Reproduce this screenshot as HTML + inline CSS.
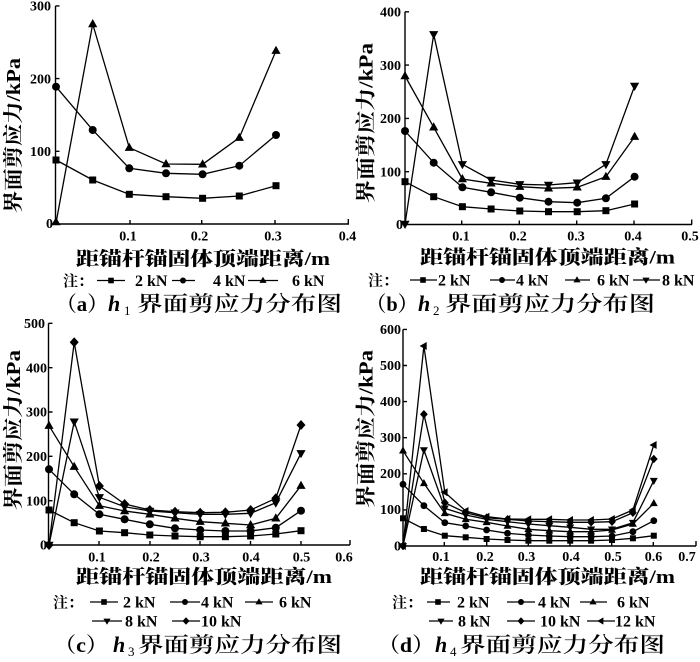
<!DOCTYPE html>
<html><head><meta charset="utf-8">
<style>
html,body{margin:0;padding:0;background:#fff;}
svg{display:block;}
.n{font-family:"Liberation Serif",serif;font-weight:bold;font-size:14px;fill:#000;}
.lg{font-family:"Liberation Serif",serif;font-weight:bold;font-size:16px;fill:#000;}
.cj{font-family:"Liberation Serif","Noto Serif CJK SC","Noto Sans CJK SC",serif;fill:#000;}
.ln{fill:none;stroke:#000;stroke-width:1.3;stroke-linejoin:miter;}
.ax{fill:none;stroke:#000;stroke-width:1.4;}
.hi{font-family:"Liberation Serif","DejaVu Serif",serif;font-style:italic;font-weight:bold;font-size:22px;fill:#000;}
.sb{font-family:"Liberation Serif",serif;font-size:13px;fill:#000;}
</style></head>
<body>
<svg width="700" height="662" viewBox="0 0 700 662" xmlns="http://www.w3.org/2000/svg">
<defs>
<path id="sq" d="M-3.5,-3.5h7v7h-7z"/>
<circle id="ci" r="4"/>
<path id="tu" d="M0,-5L4.6,3.2L-4.6,3.2Z"/>
<path id="td" d="M0,5L4.6,-3.2L-4.6,-3.2Z"/>
<path id="di" d="M0,-5L4.5,0L0,5L-4.5,0Z"/>
<path id="sqs" d="M-3,-3h6v6h-6z"/>
<circle id="cis" r="3.4"/>
<path id="tus" d="M0,-4.3L4,2.8L-4,2.8Z"/>
<path id="tds" d="M0,4.3L4,-2.8L-4,-2.8Z"/>
<path id="dis" d="M0,-4.3L3.9,0L0,4.3L-3.9,0Z"/>
<path id="tls" d="M-4.3,0L2.8,-4L2.8,4Z"/>
<path id="sql" d="M-2.8,-2.8h5.6v5.6h-5.6z"/>
<circle id="cil" r="3"/>
<path id="tul" d="M0,-3.8L3.6,2.4L-3.6,2.4Z"/>
<path id="tdl" d="M0,3.8L3.6,-2.4L-3.6,-2.4Z"/>
<path id="dil" d="M0,-3.8L3.5,0L0,3.8L-3.5,0Z"/>
<path id="tll" d="M-3.8,0L2.4,-3.6L2.4,3.6Z"/>
</defs>

<!-- ================= Panel (a) ================= -->
<path class="ax" d="M55.5,5.9V224H349M55.5,5.9h4M55.5,78.6h4M55.5,151.3h4M130,224v-4M201.7,224v-4M275,224v-4M348.3,224v-5"/>
<text class="n" x="51" y="10.5" text-anchor="end">300</text>
<text class="n" x="51" y="83.5" text-anchor="end">200</text>
<text class="n" x="51" y="156" text-anchor="end">100</text>
<text class="n" x="53" y="228" text-anchor="end">0</text>
<text class="n" x="128" y="240.5" text-anchor="middle">0.1</text>
<text class="n" x="199.5" y="240.5" text-anchor="middle">0.2</text>
<text class="n" x="273" y="240.5" text-anchor="middle">0.3</text>
<text class="n" x="347.5" y="240.5" text-anchor="middle">0.4</text>

<polyline class="ln" points="56,160 92.7,180 129.3,194.3 166,196.7 202.6,198.3 239.3,196 276,185.7"/>
<polyline class="ln" points="56,86.7 92.7,130 129.3,168.3 166,173.3 202.6,174.3 239.3,165.7 276,135"/>
<polyline class="ln" points="56,223 92.7,24 129.3,147.7 166,164 202.6,164.3 239.3,137.7 276,50.7"/>
<g>
<use href="#sq" x="56" y="160"/><use href="#sq" x="92.7" y="180"/><use href="#sq" x="129.3" y="194.3"/><use href="#sq" x="166" y="196.7"/><use href="#sq" x="202.6" y="198.3"/><use href="#sq" x="239.3" y="196"/><use href="#sq" x="276" y="185.7"/>
<use href="#ci" x="56" y="86.7"/><use href="#ci" x="92.7" y="130"/><use href="#ci" x="129.3" y="168.3"/><use href="#ci" x="166" y="173.3"/><use href="#ci" x="202.6" y="174.3"/><use href="#ci" x="239.3" y="165.7"/><use href="#ci" x="276" y="135"/>
<use href="#tu" x="56" y="222"/><use href="#tu" x="92.7" y="24"/><use href="#tu" x="129.3" y="147.7"/><use href="#tu" x="166" y="164"/><use href="#tu" x="202.6" y="164.3"/><use href="#tu" x="239.3" y="137.7"/><use href="#tu" x="276" y="50.7"/>
</g>
<text class="cj" font-size="20" font-weight="bold" transform="translate(20,135.5) rotate(-90)" text-anchor="middle" textLength="155" lengthAdjust="spacingAndGlyphs">界面剪应力/kPa</text>
<text class="cj" font-size="19" x="76" y="265" textLength="254" lengthAdjust="spacingAndGlyphs" font-weight="800">距锚杆锚固体顶端距离/m</text>
<text class="cj" font-size="15" x="63" y="286" font-weight="bold">注：</text>
<path class="ln" d="M97,280.5h28M172,280.5h23M248,280.5h30"/>
<use href="#sql" x="111" y="280.5"/><use href="#cil" x="183" y="280.5"/><use href="#tul" x="263" y="280.5"/>
<text class="lg" x="135" y="286">2 kN</text>
<text class="lg" x="213" y="286">4 kN</text>
<text class="lg" x="292" y="286">6 kN</text>
<text class="cj" font-size="21" font-weight="600" x="56" y="311" textLength="52" lengthAdjust="spacingAndGlyphs">（a）</text>
<text class="hi" x="108" y="311">h</text>
<text class="sb" x="124" y="315">1</text>
<text class="cj" font-size="21" font-weight="600" x="137" y="311" textLength="205" lengthAdjust="spacingAndGlyphs">界面剪应力分布图</text>

<!-- ================= Panel (b) ================= -->
<path class="ax" d="M405,11.8V224.5H692M405,11.8h4M405,65.1h4M405,118.4h4M405,171.7h4M461.7,224.5v-4M519.3,224.5v-4M576.7,224.5v-4M634,224.5v-4M691.7,224.5v-5"/>
<text class="n" x="401" y="16.5" text-anchor="end">400</text>
<text class="n" x="401" y="70" text-anchor="end">300</text>
<text class="n" x="401" y="123" text-anchor="end">200</text>
<text class="n" x="401" y="176.5" text-anchor="end">100</text>
<text class="n" x="403" y="229" text-anchor="end">0</text>
<text class="n" x="461" y="240.5" text-anchor="middle">0.1</text>
<text class="n" x="518" y="240.5" text-anchor="middle">0.2</text>
<text class="n" x="576" y="240.5" text-anchor="middle">0.3</text>
<text class="n" x="633" y="240.5" text-anchor="middle">0.4</text>
<text class="n" x="690" y="240.5" text-anchor="middle">0.5</text>

<polyline class="ln" points="405,181.7 433.7,196.7 462.4,206.7 491.1,209 519.8,211 548.5,211.7 577.2,211.7 605.9,210.7 634.6,204"/>
<polyline class="ln" points="405,131 433.7,162.7 462.4,187.3 491.1,192.3 519.8,197.7 548.5,201.7 577.2,202.7 605.9,198.3 634.6,176.7"/>
<polyline class="ln" points="405,76 433.7,127.3 462.4,179 491.1,183.3 519.8,186.7 548.5,188.3 577.2,187.3 605.9,176.7 634.6,136.7"/>
<polyline class="ln" points="405,224 433.7,34.3 462.4,164.3 491.1,180 519.8,184.3 548.5,185 577.2,182.7 605.9,164.3 634.6,86"/>
<g>
<use href="#sq" x="405" y="181.7"/><use href="#sq" x="433.7" y="196.7"/><use href="#sq" x="462.4" y="206.7"/><use href="#sq" x="491.1" y="209"/><use href="#sq" x="519.8" y="211"/><use href="#sq" x="548.5" y="211.7"/><use href="#sq" x="577.2" y="211.7"/><use href="#sq" x="605.9" y="210.7"/><use href="#sq" x="634.6" y="204"/>
<use href="#ci" x="405" y="131"/><use href="#ci" x="433.7" y="162.7"/><use href="#ci" x="462.4" y="187.3"/><use href="#ci" x="491.1" y="192.3"/><use href="#ci" x="519.8" y="197.7"/><use href="#ci" x="548.5" y="201.7"/><use href="#ci" x="577.2" y="202.7"/><use href="#ci" x="605.9" y="198.3"/><use href="#ci" x="634.6" y="176.7"/>
<use href="#tu" x="405" y="76"/><use href="#tu" x="433.7" y="127.3"/><use href="#tu" x="462.4" y="179"/><use href="#tu" x="491.1" y="183.3"/><use href="#tu" x="519.8" y="186.7"/><use href="#tu" x="548.5" y="188.3"/><use href="#tu" x="577.2" y="187.3"/><use href="#tu" x="605.9" y="176.7"/><use href="#tu" x="634.6" y="136.7"/>
<use href="#td" x="405" y="224"/><use href="#td" x="433.7" y="34.3"/><use href="#td" x="462.4" y="164.3"/><use href="#td" x="491.1" y="180"/><use href="#td" x="519.8" y="184.3"/><use href="#td" x="548.5" y="185"/><use href="#td" x="577.2" y="182.7"/><use href="#td" x="605.9" y="164.3"/><use href="#td" x="634.6" y="86"/>
</g>
<text class="cj" font-size="20" font-weight="bold" transform="translate(372.5,123) rotate(-90)" text-anchor="middle" textLength="160" lengthAdjust="spacingAndGlyphs">界面剪应力/kPa</text>
<text class="cj" font-size="19" x="420" y="263.5" textLength="255" lengthAdjust="spacingAndGlyphs" font-weight="800">距锚杆锚固体顶端距离/m</text>
<text class="cj" font-size="15" x="368" y="285.5" font-weight="bold">注：</text>
<path class="ln" d="M410,280h27M490,280h25M565,280h25M633,280h27"/>
<use href="#sql" x="423" y="280"/><use href="#cil" x="502" y="280"/><use href="#tul" x="577" y="280"/><use href="#tdl" x="646" y="280"/>
<text class="lg" x="438" y="285.5">2 kN</text>
<text class="lg" x="516" y="285.5">4 kN</text>
<text class="lg" x="597" y="285.5">6 kN</text>
<text class="lg" x="662" y="285.5">8 kN</text>
<text class="cj" font-size="21" font-weight="600" x="366" y="311" textLength="52" lengthAdjust="spacingAndGlyphs">（b）</text>
<text class="hi" x="418" y="311">h</text>
<text class="sb" x="433" y="315">2</text>
<text class="cj" font-size="21" font-weight="600" x="445" y="311" textLength="210" lengthAdjust="spacingAndGlyphs">界面剪应力分布图</text>

<!-- ================= Panel (c) ================= -->
<path class="ax" d="M48.5,323.3V545H350M48.5,323.3h4M48.5,367.7h4M48.5,412h4M48.5,456.3h4M48.5,500.7h4M99,545v-4M150,545v-4M200,545v-4M250.5,545v-4M301,545v-4M350,545v-5"/>
<text class="n" x="45" y="328" text-anchor="end">500</text>
<text class="n" x="47" y="372.5" text-anchor="end">400</text>
<text class="n" x="47" y="416.5" text-anchor="end">300</text>
<text class="n" x="47" y="461" text-anchor="end">200</text>
<text class="n" x="47" y="505.5" text-anchor="end">100</text>
<text class="n" x="47" y="549.5" text-anchor="end">0</text>
<text class="n" x="97" y="561.5" text-anchor="middle">0.1</text>
<text class="n" x="151" y="561.5" text-anchor="middle">0.2</text>
<text class="n" x="201" y="561.5" text-anchor="middle">0.3</text>
<text class="n" x="251" y="561.5" text-anchor="middle">0.4</text>
<text class="n" x="301.5" y="561.5" text-anchor="middle">0.5</text>
<text class="n" x="344" y="561.5" text-anchor="middle">0.6</text>

<polyline class="ln" points="49,510 74.2,522.7 99.4,531 124.6,532.7 149.8,535 175,536 200.2,536.7 225.4,536.7 250.6,536 275.8,534 301,530.7"/>
<polyline class="ln" points="49,469.3 74.2,494.3 99.4,514.3 124.6,519.3 149.8,524.3 175,528.3 200.2,530 225.4,531 250.6,531 275.8,527.7 301,510.7"/>
<polyline class="ln" points="49,425.7 74.2,466.7 99.4,505.7 124.6,511 149.8,514.3 175,518.3 200.2,521.7 225.4,523.3 250.6,525 275.8,518.3 301,485.7"/>
<polyline class="ln" points="49,545 74.2,421.7 99.4,497.3 124.6,506.7 149.8,511 175,512.7 200.2,514.3 225.4,514.3 250.6,513.3 275.8,502.7 301,453.3"/>
<polyline class="ln" points="49,545 74.2,342.3 99.4,486 124.6,504 149.8,510 175,511.7 200.2,512.7 225.4,512.3 250.6,510 275.8,498.3 301,425"/>
<g>
<use href="#sq" x="49" y="510"/><use href="#sq" x="74.2" y="522.7"/><use href="#sq" x="99.4" y="531"/><use href="#sq" x="124.6" y="532.7"/><use href="#sq" x="149.8" y="535"/><use href="#sq" x="175" y="536"/><use href="#sq" x="200.2" y="536.7"/><use href="#sq" x="225.4" y="536.7"/><use href="#sq" x="250.6" y="536"/><use href="#sq" x="275.8" y="534"/><use href="#sq" x="301" y="530.7"/>
<use href="#ci" x="49" y="469.3"/><use href="#ci" x="74.2" y="494.3"/><use href="#ci" x="99.4" y="514.3"/><use href="#ci" x="124.6" y="519.3"/><use href="#ci" x="149.8" y="524.3"/><use href="#ci" x="175" y="528.3"/><use href="#ci" x="200.2" y="530"/><use href="#ci" x="225.4" y="531"/><use href="#ci" x="250.6" y="531"/><use href="#ci" x="275.8" y="527.7"/><use href="#ci" x="301" y="510.7"/>
<use href="#tu" x="49" y="425.7"/><use href="#tu" x="74.2" y="466.7"/><use href="#tu" x="99.4" y="505.7"/><use href="#tu" x="124.6" y="511"/><use href="#tu" x="149.8" y="514.3"/><use href="#tu" x="175" y="518.3"/><use href="#tu" x="200.2" y="521.7"/><use href="#tu" x="225.4" y="523.3"/><use href="#tu" x="250.6" y="525"/><use href="#tu" x="275.8" y="518.3"/><use href="#tu" x="301" y="485.7"/>
<use href="#td" x="49" y="545"/><use href="#td" x="74.2" y="421.7"/><use href="#td" x="99.4" y="497.3"/><use href="#td" x="124.6" y="506.7"/><use href="#td" x="149.8" y="511"/><use href="#td" x="175" y="512.7"/><use href="#td" x="200.2" y="514.3"/><use href="#td" x="225.4" y="514.3"/><use href="#td" x="250.6" y="513.3"/><use href="#td" x="275.8" y="502.7"/><use href="#td" x="301" y="453.3"/>
<use href="#di" x="49" y="545"/><use href="#di" x="74.2" y="342.3"/><use href="#di" x="99.4" y="486"/><use href="#di" x="124.6" y="504"/><use href="#di" x="149.8" y="510"/><use href="#di" x="175" y="511.7"/><use href="#di" x="200.2" y="512.7"/><use href="#di" x="225.4" y="512.3"/><use href="#di" x="250.6" y="510"/><use href="#di" x="275.8" y="498.3"/><use href="#di" x="301" y="425"/>
</g>
<text class="cj" font-size="20" font-weight="bold" transform="translate(20,430) rotate(-90)" text-anchor="middle" textLength="160" lengthAdjust="spacingAndGlyphs">界面剪应力/kPa</text>
<text class="cj" font-size="19" x="76" y="583" textLength="256" lengthAdjust="spacingAndGlyphs" font-weight="800">距锚杆锚固体顶端距离/m</text>
<text class="cj" font-size="15" x="53" y="607.5" font-weight="bold">注：</text>
<path class="ln" d="M90,602h28M170,602h30M245,602h28M92,621h30M172,621h28"/>
<use href="#sql" x="104" y="602"/><use href="#cil" x="185" y="602"/><use href="#tul" x="259" y="602"/><use href="#tdl" x="107" y="621"/><use href="#dil" x="186" y="621"/>
<text class="lg" x="123" y="607.5">2 kN</text>
<text class="lg" x="201" y="607.5">4 kN</text>
<text class="lg" x="279" y="607.5">6 kN</text>
<text class="lg" x="125" y="626.5">8 kN</text>
<text class="lg" x="201" y="626.5">10 kN</text>
<text class="cj" font-size="21" font-weight="600" x="54" y="652" textLength="54" lengthAdjust="spacingAndGlyphs">（c）</text>
<text class="hi" x="113" y="652">h</text>
<text class="sb" x="128" y="656">3</text>
<text class="cj" font-size="21" font-weight="600" x="138" y="652" textLength="204" lengthAdjust="spacingAndGlyphs">界面剪应力分布图</text>

<!-- ================= Panel (d) ================= -->
<path class="ax" d="M403,329.4V546H696M403,329.4h4M403,365.5h4M403,401.6h4M403,437.7h4M403,473.8h4M403,509.9h4M444.3,546v-4M486.7,546v-4M528.3,546v-4M570,546v-4M611.7,546v-4M653.3,546v-4M696,546v-5"/>
<text class="n" x="401" y="334" text-anchor="end">600</text>
<text class="n" x="401" y="370" text-anchor="end">500</text>
<text class="n" x="401" y="406" text-anchor="end">400</text>
<text class="n" x="401" y="442" text-anchor="end">300</text>
<text class="n" x="401" y="478" text-anchor="end">200</text>
<text class="n" x="401" y="514" text-anchor="end">100</text>
<text class="n" x="401" y="550.5" text-anchor="end">0</text>
<text class="n" x="441" y="561" text-anchor="middle">0.1</text>
<text class="n" x="485" y="561" text-anchor="middle">0.2</text>
<text class="n" x="526.5" y="561" text-anchor="middle">0.3</text>
<text class="n" x="571" y="561" text-anchor="middle">0.4</text>
<text class="n" x="613" y="561" text-anchor="middle">0.5</text>
<text class="n" x="653.5" y="561" text-anchor="middle">0.6</text>
<text class="n" x="687" y="561" text-anchor="middle">0.7</text>

<polyline class="ln" points="403,518.3 423.9,529 444.8,535.7 465.7,537.3 486.6,539 507.5,540 528.4,540.7 549.3,540.7 570.2,540.7 591.1,540.7 612,540 632.9,538.3 653.8,535.7"/>
<polyline class="ln" points="403,484.3 423.9,505.7 444.8,522.7 465.7,526 486.6,530 507.5,533.3 528.4,535 549.3,536 570.2,536.7 591.1,536.7 612,536 632.9,531.7 653.8,520.7"/>
<polyline class="ln" points="403,450.7 423.9,483.3 444.8,513.3 465.7,519.3 486.6,522.3 507.5,526 528.4,529.3 549.3,530.7 570.2,531.7 591.1,531.7 612,530 632.9,524 653.8,503.3"/>
<polyline class="ln" points="403,546 423.9,450 444.8,508.3 465.7,515 486.6,519.3 507.5,521.7 528.4,524 549.3,525.7 570.2,527.3 591.1,529.3 612,529.3 632.9,522.7 653.8,480.7"/>
<polyline class="ln" points="403,546 423.9,414.3 444.8,502.7 465.7,512.7 486.6,517.7 507.5,519.3 528.4,521 549.3,521.7 570.2,522.3 591.1,522.3 612,521.7 632.9,512.7 653.8,459"/>
<polyline class="ln" points="403,546 423.9,346 444.8,492.3 465.7,511 486.6,516.7 507.5,519 528.4,519.3 549.3,519.3 570.2,520 591.1,520 612,519 632.9,510 653.8,445"/>
<g>
<use href="#sqs" x="403" y="518.3"/><use href="#sqs" x="423.9" y="529"/><use href="#sqs" x="444.8" y="535.7"/><use href="#sqs" x="465.7" y="537.3"/><use href="#sqs" x="486.6" y="539"/><use href="#sqs" x="507.5" y="540"/><use href="#sqs" x="528.4" y="540.7"/><use href="#sqs" x="549.3" y="540.7"/><use href="#sqs" x="570.2" y="540.7"/><use href="#sqs" x="591.1" y="540.7"/><use href="#sqs" x="612" y="540"/><use href="#sqs" x="632.9" y="538.3"/><use href="#sqs" x="653.8" y="535.7"/>
<use href="#cis" x="403" y="484.3"/><use href="#cis" x="423.9" y="505.7"/><use href="#cis" x="444.8" y="522.7"/><use href="#cis" x="465.7" y="526"/><use href="#cis" x="486.6" y="530"/><use href="#cis" x="507.5" y="533.3"/><use href="#cis" x="528.4" y="535"/><use href="#cis" x="549.3" y="536"/><use href="#cis" x="570.2" y="536.7"/><use href="#cis" x="591.1" y="536.7"/><use href="#cis" x="612" y="536"/><use href="#cis" x="632.9" y="531.7"/><use href="#cis" x="653.8" y="520.7"/>
<use href="#tus" x="403" y="450.7"/><use href="#tus" x="423.9" y="483.3"/><use href="#tus" x="444.8" y="513.3"/><use href="#tus" x="465.7" y="519.3"/><use href="#tus" x="486.6" y="522.3"/><use href="#tus" x="507.5" y="526"/><use href="#tus" x="528.4" y="529.3"/><use href="#tus" x="549.3" y="530.7"/><use href="#tus" x="570.2" y="531.7"/><use href="#tus" x="591.1" y="531.7"/><use href="#tus" x="612" y="530"/><use href="#tus" x="632.9" y="524"/><use href="#tus" x="653.8" y="503.3"/>
<use href="#tds" x="403" y="546"/><use href="#tds" x="423.9" y="450"/><use href="#tds" x="444.8" y="508.3"/><use href="#tds" x="465.7" y="515"/><use href="#tds" x="486.6" y="519.3"/><use href="#tds" x="507.5" y="521.7"/><use href="#tds" x="528.4" y="524"/><use href="#tds" x="549.3" y="525.7"/><use href="#tds" x="570.2" y="527.3"/><use href="#tds" x="591.1" y="529.3"/><use href="#tds" x="612" y="529.3"/><use href="#tds" x="632.9" y="522.7"/><use href="#tds" x="653.8" y="480.7"/>
<use href="#dis" x="403" y="546"/><use href="#dis" x="423.9" y="414.3"/><use href="#dis" x="444.8" y="502.7"/><use href="#dis" x="465.7" y="512.7"/><use href="#dis" x="486.6" y="517.7"/><use href="#dis" x="507.5" y="519.3"/><use href="#dis" x="528.4" y="521"/><use href="#dis" x="549.3" y="521.7"/><use href="#dis" x="570.2" y="522.3"/><use href="#dis" x="591.1" y="522.3"/><use href="#dis" x="612" y="521.7"/><use href="#dis" x="632.9" y="512.7"/><use href="#dis" x="653.8" y="459"/>
<use href="#tls" x="403" y="546"/><use href="#tls" x="423.9" y="346"/><use href="#tls" x="444.8" y="492.3"/><use href="#tls" x="465.7" y="511"/><use href="#tls" x="486.6" y="516.7"/><use href="#tls" x="507.5" y="519"/><use href="#tls" x="528.4" y="519.3"/><use href="#tls" x="549.3" y="519.3"/><use href="#tls" x="570.2" y="520"/><use href="#tls" x="591.1" y="520"/><use href="#tls" x="612" y="519"/><use href="#tls" x="632.9" y="510"/><use href="#tls" x="653.8" y="445"/>
</g>
<text class="cj" font-size="20" font-weight="bold" transform="translate(372.5,429) rotate(-90)" text-anchor="middle" textLength="158" lengthAdjust="spacingAndGlyphs">界面剪应力/kPa</text>
<text class="cj" font-size="19" x="420" y="583" textLength="255" lengthAdjust="spacingAndGlyphs" font-weight="800">距锚杆锚固体顶端距离/m</text>
<text class="cj" font-size="15" x="392" y="607.5" font-weight="bold">注：</text>
<path class="ln" d="M427,602h23M507,602h28M580,602h27M429,621h24M507,621h28M587,621h28"/>
<use href="#sql" x="438" y="602"/><use href="#cil" x="521" y="602"/><use href="#tul" x="593" y="602"/><use href="#tdl" x="441" y="621"/><use href="#dil" x="521" y="621"/><use href="#tll" x="601" y="621"/>
<text class="lg" x="457" y="607.5">2 kN</text>
<text class="lg" x="538" y="607.5">4 kN</text>
<text class="lg" x="617" y="607.5">6 kN</text>
<text class="lg" x="458" y="626.5">8 kN</text>
<text class="lg" x="540" y="626.5">10 kN</text>
<text class="lg" x="615" y="626.5">12 kN</text>
<text class="cj" font-size="21" font-weight="600" x="378" y="652" textLength="56" lengthAdjust="spacingAndGlyphs">（d）</text>
<text class="hi" x="435" y="652">h</text>
<text class="sb" x="450" y="656">4</text>
<text class="cj" font-size="21" font-weight="600" x="460" y="652" textLength="205" lengthAdjust="spacingAndGlyphs">界面剪应力分布图</text>
</svg>
</body></html>
